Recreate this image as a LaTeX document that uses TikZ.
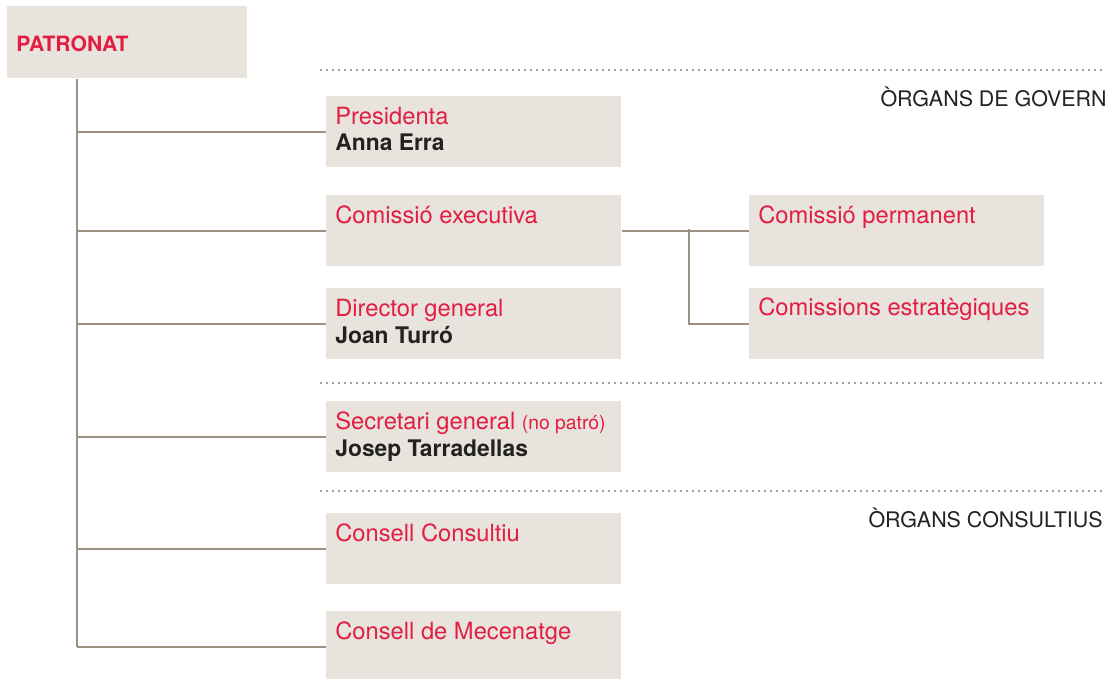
\documentclass[tikz,border=0pt]{standalone}
\usepackage{fontspec}
\setmainfont{TeX Gyre Heros}
\usetikzlibrary{positioning,calc}
\definecolor{boxfill}{HTML}{E8E3DD}
\definecolor{orgred}{HTML}{E31D41}
\definecolor{linkgray}{HTML}{9C9184}
\definecolor{dotgray}{HTML}{A0A0A0}
\definecolor{inkblack}{HTML}{222222}
\newcommand*{\who}[1]{{\fontsize{13}{0.54cm}\selectfont\bfseries\color{inkblack}#1}}
\tikzset{
  orgbox/.style={fill=boxfill,draw=none,anchor=north west,inner sep=0pt,
                 minimum width=5.9cm,minimum height=1.42cm},
  orgtext/.style={anchor=base west,inner sep=0pt,align=left,text=orgred,
                  font=\fontsize{13.5}{0.54cm}\selectfont},
  link/.style={draw=linkgray,line width=0.038cm},
  sepline/.style={draw=dotgray,line width=0.04cm,dash pattern=on 0.04cm off 0.08cm},
  grouplabel/.style={anchor=base east,inner sep=0pt,text=inkblack,
                     font=\fontsize{12.2}{14}\selectfont}
}

\begin{document}
\begin{tikzpicture}[x=0.02cm,y=-0.02cm]
\useasboundingbox (0,0) rectangle (1112,679);
%% Top of the tree
\node[orgbox,minimum width=4.8cm,minimum height=1.44cm] (patronat) at (7,6) {};
\node[anchor=base west,inner sep=0pt,text=orgred,font=\fontsize{12}{14}\selectfont\bfseries]
  (patronat-t) at ($(patronat.north west)+(9,46)$) {PATRONAT};
%% Boxes of the left column
\node[orgbox] (pres) at (326,96)  {};
\node[orgbox] (exec) at (326,195) {};
\node[orgbox] (dir)  at (326,288) {};
\node[orgbox] (sec)  at (326,401) {};
\node[orgbox] (cons) at (326,513) {};
\node[orgbox] (mec)  at (326,611) {};
%% Boxes of the right column
\node[orgbox] (perm) at (749,195) {};
\node[orgbox] (est)  at (749,288) {};
%% Texts in the boxes (two-line texts sit on their last line)
\node[orgtext] (pres-t) at ($(pres.north west)+(9,55)$) {Presidenta\\\who{Anna Erra}};
\node[orgtext] (exec-t) at ($(exec.north west)+(9,28)$) {Comissió executiva};
\node[orgtext] (dir-t)  at ($(dir.north west)+(9,55)$)  {Director general\\\who{Joan Turró}};
\node[orgtext] (sec-t)  at ($(sec.north west)+(9,55)$)
  {Secretari general {\fontsize{11}{13}\selectfont(no patró)}\\\who{Josep Tarradellas}};
\node[orgtext] (cons-t) at ($(cons.north west)+(9,28)$) {Consell Consultiu};
\node[orgtext] (mec-t)  at ($(mec.north west)+(9,28)$)  {Consell de Mecenatge};
\node[orgtext] (perm-t) at ($(perm.north west)+(9,28)$) {Comissió permanent};
\node[orgtext] (est-t)  at ($(est.north west)+(9,27)$)  {Comissions estratègiques};
%% Trunk and branches
\coordinate (trunk) at ($(patronat.south west)+(70,0)$);
\draw[link] (trunk) -- (trunk |- mec.west);
\foreach \n in {pres,exec,dir,sec,cons,mec}
  \draw[link] (trunk |- \n.west) -- (\n.west);
%% Fork of the executive committee
\coordinate (fork) at ($(exec.east)!0.53!(perm.west)$);
\draw[link] (exec.east) -- (perm.west);
\draw[link] ([yshift=1pt]fork) |- (est.west);
%% Separators and group labels
\coordinate (sep1) at (320,70);
\coordinate (sep2) at (320,383);
\coordinate (sep3) at (320,491);
\foreach \s in {sep1,sep2,sep3}
  \draw[sepline] (\s) -- ++(784,0);
\node[grouplabel] (govern) at (1107,107) {ÒRGANS DE GOVERN};
\node[grouplabel] (consult) at (1103,527) {ÒRGANS CONSULTIUS};
\end{tikzpicture}
\end{document}
